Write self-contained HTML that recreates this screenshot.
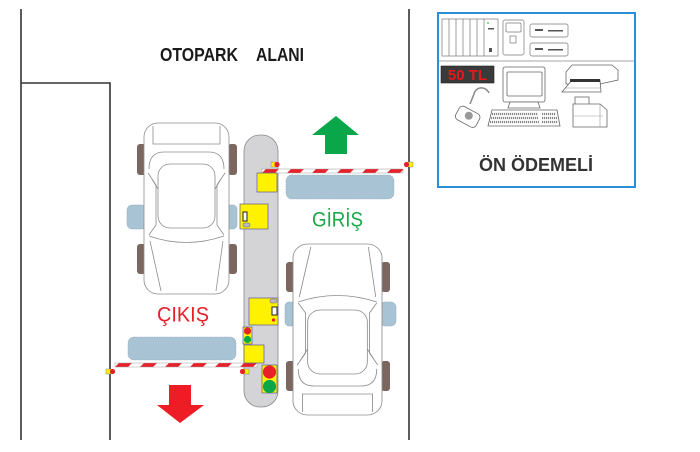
<!DOCTYPE html>
<html><head><meta charset="utf-8">
<style>
html,body{margin:0;padding:0;background:#fff;width:700px;height:452px;overflow:hidden}
svg{display:block}
</style></head>
<body>
<svg width="700" height="452" viewBox="0 0 700 452" xmlns="http://www.w3.org/2000/svg">
<defs>
  <pattern id="st1" patternUnits="userSpaceOnUse" x="262" y="169" width="25" height="4">
    <rect width="25" height="4" fill="#fff"/>
    <polygon points="0,4 4,0 17,0 13,4" fill="#e8202a"/>
  </pattern>
  <pattern id="st2" patternUnits="userSpaceOnUse" x="115" y="363" width="25" height="4">
    <rect width="25" height="4" fill="#fff"/>
    <polygon points="0,4 4,0 17,0 13,4" fill="#e8202a"/>
  </pattern>
  <g id="car" fill="none" stroke="#8c8c8c" stroke-width="0.8">
    <rect x="0" y="0" width="85" height="171" rx="14" fill="#fff"/>
    <path d="M9,3 V21 H76 V3"/>
    <path d="M5,46 Q5,29 20,29 H65 Q80,29 80,46"/>
    <rect x="14" y="41" width="57" height="64" rx="12"/>
    <path d="M4,50 L12,62 L12,102 L5,112"/>
    <path d="M81,50 L73,62 L73,102 L80,112"/>
    <path d="M8,56 L14,66 M77,56 L71,66"/>
    <path d="M5,113 Q42,126 80,113"/>
    <path d="M6,118 L17,168 M79,118 L72,168"/>
  </g>
</defs>

<!-- walls -->
<g stroke="#333" stroke-width="1.6" fill="none">
  <path d="M21,9 V440"/>
  <path d="M21,83 H110 V440"/>
  <path d="M409,9 V440"/>
</g>

<text x="160" y="61" font-family="Liberation Sans, sans-serif" font-weight="bold" font-size="18" fill="#1a1a1a" textLength="78" lengthAdjust="spacingAndGlyphs">OTOPARK</text>
<text x="256" y="61" font-family="Liberation Sans, sans-serif" font-weight="bold" font-size="18" fill="#1a1a1a" textLength="48" lengthAdjust="spacingAndGlyphs">ALANI</text>

<!-- green arrow up -->
<polygon points="336,116 359,135 347,135 347,154 325,154 325,135 312,135" fill="#0aa64a"/>
<!-- red arrow down -->
<polygon points="169,385 191,385 191,405 204,405 180,423 157,405 169,405" fill="#ee1c25"/>

<!-- upper car wheels & mirrors -->
<g fill="#7b6760">
  <rect x="137" y="144" width="9" height="31" rx="3"/>
  <rect x="137" y="244" width="9" height="30" rx="3"/>
  <rect x="228" y="144" width="9" height="31" rx="3"/>
  <rect x="228" y="244" width="9" height="30" rx="3"/>
  <rect x="286" y="262" width="9" height="30" rx="3"/>
  <rect x="286" y="361" width="9" height="30" rx="3"/>
  <rect x="381" y="262" width="9" height="30" rx="3"/>
  <rect x="381" y="361" width="9" height="30" rx="3"/>
</g>
<g fill="#a8c4d4" stroke="#9ab" stroke-width="0.5">
  <rect x="127" y="205" width="20" height="24" rx="5"/>
  <rect x="226" y="205" width="11" height="24" rx="4"/>
  <rect x="285" y="302" width="11" height="24" rx="4"/>
  <rect x="380" y="302" width="16" height="24" rx="5"/>
</g>
<use href="#car" transform="translate(144,123)"/>
<use href="#car" transform="translate(293,415) scale(1.047,-1)"/>

<!-- pads -->
<rect x="286" y="175" width="108" height="24" rx="6" fill="#a8c4d4" stroke="#8fa9b8" stroke-width="0.6" stroke-dasharray="1.5,1"/>
<rect x="128" y="337" width="108" height="23" rx="6" fill="#a8c4d4" stroke="#8fa9b8" stroke-width="0.6" stroke-dasharray="1.5,1"/>

<!-- pillar -->
<rect x="244" y="135" width="34" height="272" rx="16" fill="#d4d4d6" stroke="#8a8a8a" stroke-width="0.8"/>

<!-- barriers -->
<rect x="262" y="169" width="141" height="4" fill="url(#st1)" stroke="#9a9a9a" stroke-width="0.5"/>
<rect x="115" y="363" width="142" height="4" fill="url(#st2)" stroke="#9a9a9a" stroke-width="0.5"/>

<!-- markers -->
<g stroke="#6a6aa0" stroke-width="0.4">
  <rect x="271" y="162" width="5" height="5" fill="#fff200"/>
  <rect x="408" y="162" width="5" height="5" fill="#fff200"/>
  <rect x="106" y="369" width="5" height="5" fill="#fff200"/>
  <rect x="244" y="369" width="5" height="5" fill="#fff200"/>
</g>
<g fill="#e8202a">
  <circle cx="277" cy="164.5" r="2.6"/>
  <circle cx="406.5" cy="164.5" r="2.6"/>
  <circle cx="112.5" cy="371.5" r="2.6"/>
  <circle cx="242.5" cy="371.5" r="2.6"/>
</g>

<!-- yellow housings / machines -->
<g fill="#fff200" stroke="#5a5a96" stroke-width="0.7">
  <rect x="257" y="173" width="20" height="19"/>
  <rect x="240" y="204" width="28" height="25"/>
  <rect x="249" y="298" width="29" height="27"/>
  <rect x="244" y="345" width="20" height="18"/>
  <rect x="243" y="327" width="9" height="17"/>
  <rect x="262" y="365" width="15" height="28"/>
</g>
<!-- machine details -->
<rect x="243" y="212" width="4" height="9" fill="#fff" stroke="#222" stroke-width="1"/>
<rect x="243" y="223" width="7" height="4" rx="1.5" fill="#bbb" stroke="#666" stroke-width="0.5"/>
<rect x="270" y="299" width="7" height="4" rx="1.5" fill="#bbb" stroke="#666" stroke-width="0.5"/>
<rect x="272" y="307" width="5" height="8" fill="#fff" stroke="#222" stroke-width="1"/>
<circle cx="273.5" cy="320" r="1.6" fill="#e8202a"/>
<!-- traffic lights -->
<circle cx="247.5" cy="331" r="3.6" fill="#e8202a"/>
<circle cx="247.5" cy="339.5" r="3.6" fill="#0aa64a"/>
<circle cx="269.5" cy="372" r="6.6" fill="#e8202a"/>
<circle cx="269.5" cy="386.5" r="6.6" fill="#0aa64a"/>

<!-- labels -->
<text x="312" y="226.5" font-family="Liberation Sans, sans-serif" font-size="21" fill="#1aa84a" textLength="51" lengthAdjust="spacingAndGlyphs">GİRİŞ</text>
<text x="157" y="321.5" font-family="Liberation Sans, sans-serif" font-size="21" fill="#e8202a" textLength="52" lengthAdjust="spacingAndGlyphs">ÇIKIŞ</text>

<!-- right panel -->
<rect x="438" y="13" width="197" height="174" fill="#fff" stroke="#2b8fd6" stroke-width="2"/>
<line x1="439" y1="61" x2="634" y2="61" stroke="#8a8a8a" stroke-width="0.8"/>
<!-- rack -->
<g fill="#fff" stroke="#777" stroke-width="0.7">
  <rect x="442" y="19" width="56" height="37"/>
  <path d="M449,19V56 M456,19V56 M463,19V56 M470,19V56 M477,19V56 M484,19V56"/>
  <rect x="503" y="20" width="21" height="35" rx="2"/>
  <rect x="506" y="23" width="15" height="9" rx="1"/>
  <rect x="510" y="36" width="6" height="7"/>
  <rect x="530" y="24" width="38" height="13" rx="2"/>
  <rect x="530" y="43" width="38" height="13" rx="2"/>
</g>
<circle cx="488" cy="23" r="0.9" fill="#3c3"/>
<rect x="488" y="28" width="6" height="1.5" fill="#555"/>
<rect x="489" y="48" width="3" height="4" fill="#555"/>
<g fill="#555">
  <rect x="535" y="29" width="8" height="2"/><rect x="548" y="30" width="15" height="1.5"/>
  <rect x="535" y="48" width="8" height="2"/><rect x="548" y="49" width="15" height="1.5"/>
</g>
<!-- 50 TL -->
<rect x="441" y="66" width="53" height="17" fill="#3a3a3a" stroke="#222" stroke-width="0.6"/>
<text x="467.5" y="80" text-anchor="middle" font-family="Liberation Sans, sans-serif" font-weight="bold" font-size="15" fill="#e81818">50 TL</text>
<!-- monitor -->
<g fill="#fff" stroke="#666" stroke-width="0.8">
  <rect x="503" y="67" width="42" height="35" rx="2"/>
  <rect x="507" y="72" width="35" height="24" rx="1"/>
  <path d="M510,102 L538,102 L540,108 L508,108 Z"/>
  <path d="M492,110 L557,110 L560,126 L488,126 Z"/>
</g>
<g stroke="#888" stroke-width="2.2" stroke-dasharray="1.2,0.8">
  <line x1="492" y1="114" x2="538" y2="114"/>
  <line x1="491" y1="118" x2="538" y2="118"/>
  <line x1="490" y1="122" x2="539" y2="122"/>
  <line x1="542" y1="114" x2="556" y2="114"/>
  <line x1="542" y1="118" x2="557" y2="118"/>
  <line x1="542" y1="122" x2="558" y2="122"/>
</g>
<!-- card reader -->
<path d="M489,93 C486,86 476,86 474,94 L470,104" fill="none" stroke="#888" stroke-width="1.5"/>
<g transform="rotate(28 467 117)">
  <rect x="456" y="109" width="23" height="15" rx="4" fill="#fff" stroke="#666" stroke-width="0.8"/>
  <circle cx="468" cy="115" r="4" fill="#999"/>
</g>
<!-- printer -->
<g fill="#fff" stroke="#666" stroke-width="0.8">
  <path d="M566,72 L572,65 L612,65 L618,70 L618,80 L600,84 L566,84 Z"/>
  <path d="M572,80 L600,80 L601,92 L562,92 Z"/>
  <rect x="575" y="97" width="14" height="8"/>
  <path d="M573,104 L600,104 L607,110 L607,127 L573,127 Z"/>
</g>
<g stroke="#999" stroke-width="0.6">
  <line x1="566" y1="88" x2="600" y2="88"/>
  <line x1="573" y1="116" x2="603" y2="116"/>
  <line x1="600" y1="104" x2="600" y2="127"/>
</g>
<rect x="570" y="79" width="30" height="3" fill="#333"/>

<text x="536" y="171" text-anchor="middle" font-family="Liberation Sans, sans-serif" font-weight="bold" font-size="18" fill="#333" textLength="114" lengthAdjust="spacingAndGlyphs">ÖN ÖDEMELİ</text>
</svg>
</body></html>
